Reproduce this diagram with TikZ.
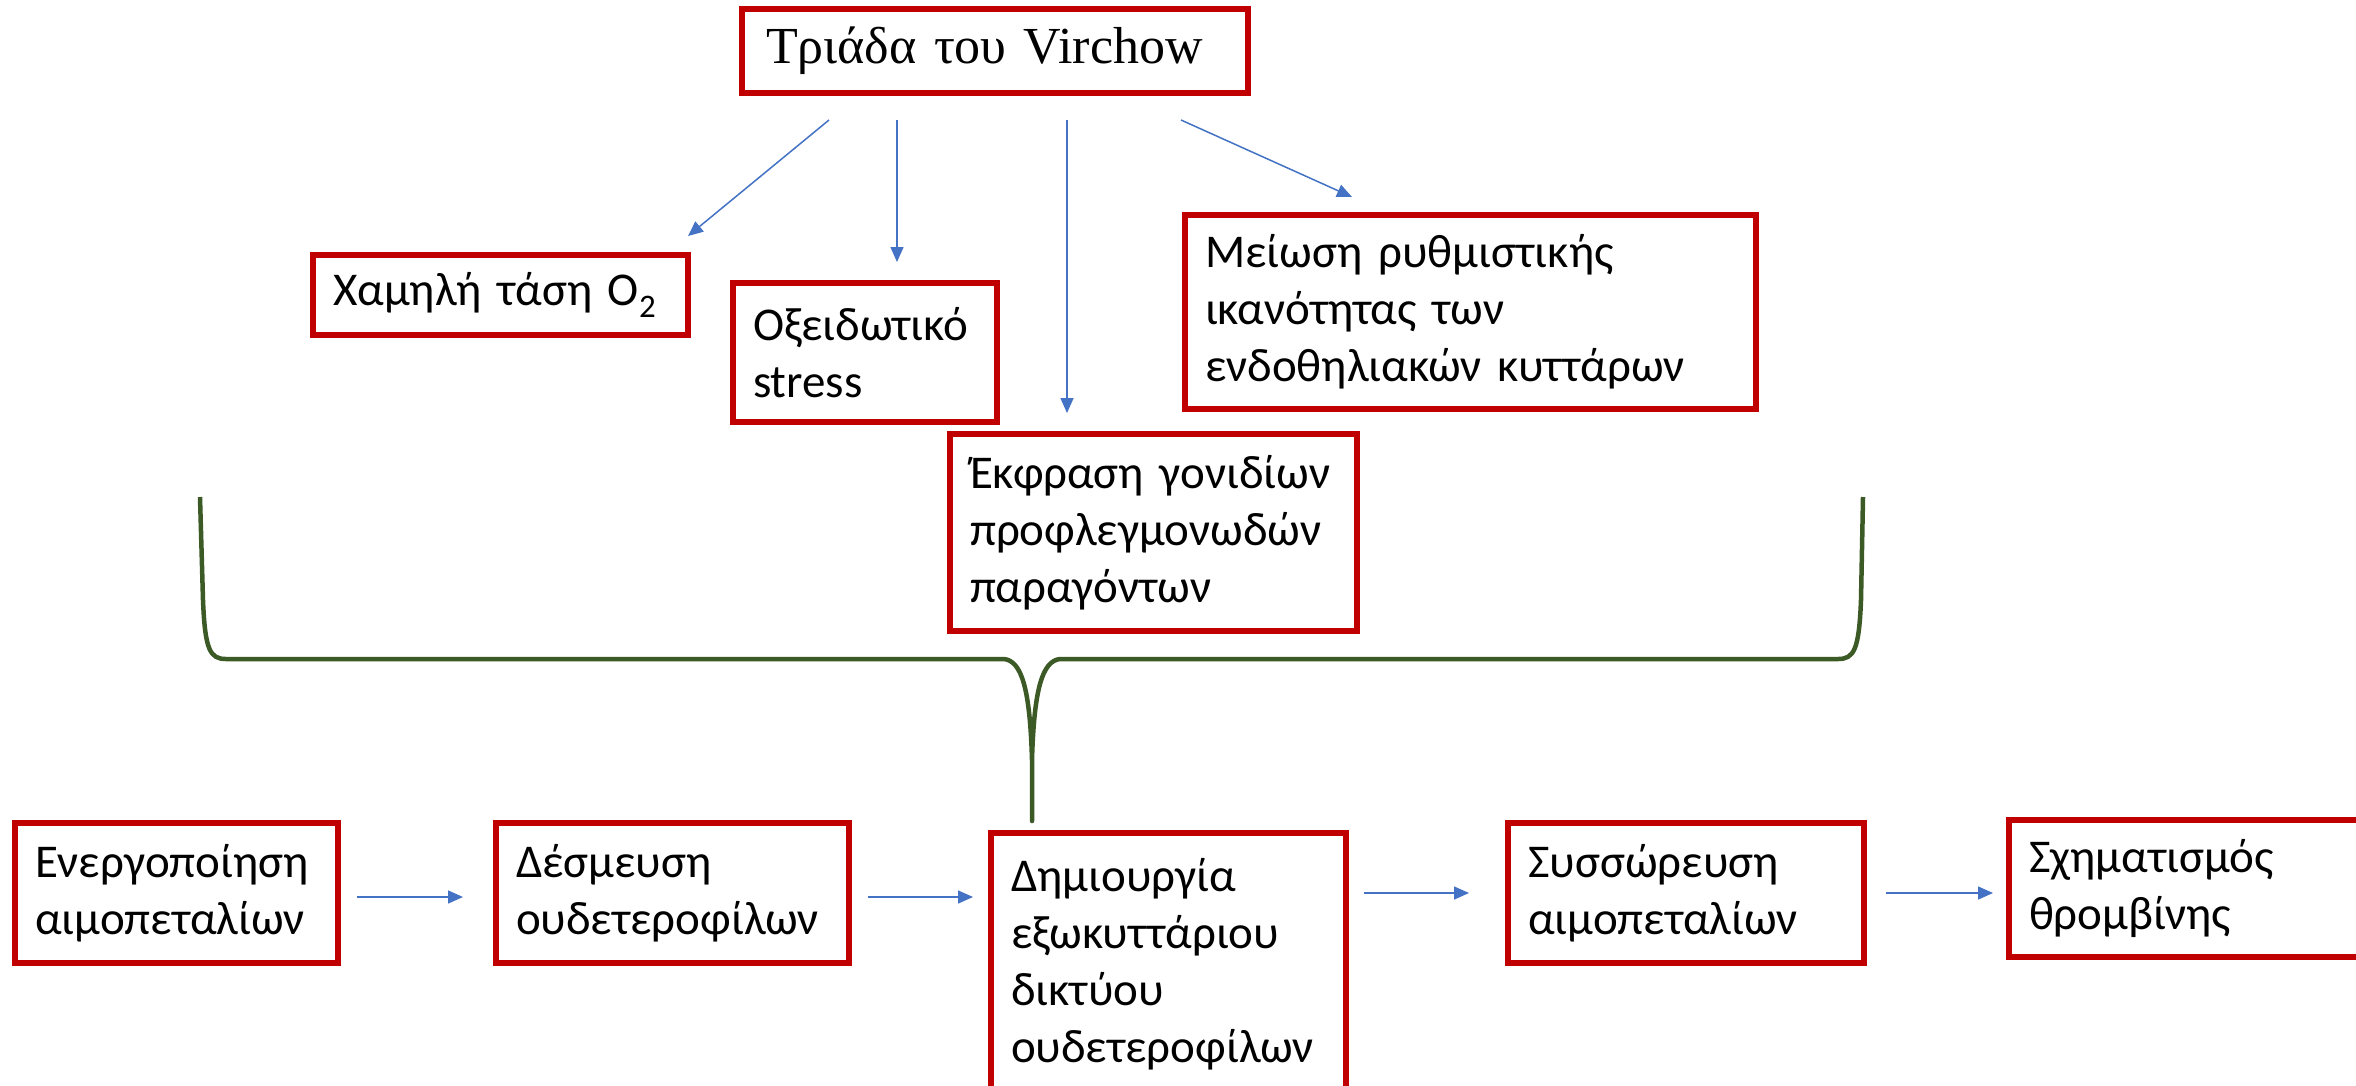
\documentclass[tikz,border=0pt]{standalone}
\usepackage{fontspec}
\setmainfont{Carlito}
\newfontfamily\timesf{Liberation Serif}
\usetikzlibrary{arrows.meta}
\definecolor{boxred}{HTML}{C00000}
\definecolor{arrblue}{HTML}{4472C4}
\definecolor{bracegreen}{HTML}{3B5A26}
\hyphenpenalty=10000
\exhyphenpenalty=10000
\begin{document}
\begin{tikzpicture}[x=1pt,y=-1pt,
  box/.style={draw=boxred, line width=5.5pt, fill=white, inner xsep=20pt, inner ysep=0pt,
    align=left, font=\fontsize{47}{57}\selectfont},
  arr/.style={draw=arrblue, line width=1.5pt, -{Triangle[length=15pt,width=13pt]}},
  bracestyle/.style={draw=bracegreen, line width=4.5pt, line join=round}]
\fill[white] (0,0) rectangle (2356,1085);
\useasboundingbox (0,0) rectangle (2356,1085);

% brace
\draw[bracestyle] (200,497) -- (203,600) .. controls (205,650) and (210,659) .. (226,659)
  -- (1004,659) .. controls (1022,661) and (1030,690) .. (1032,760) -- (1032,821)
  -- (1032,760) .. controls (1034,690) and (1042,661) .. (1060,659)
  -- (1838,659) .. controls (1854,659) and (1859,650) .. (1861,600) -- (1863,497);

% nodes
\node[box, inner xsep=24pt, minimum height=84pt, text width=458pt,
  font=\timesf\fontsize{52}{60}\selectfont] (top) at (995,51) {Τριάδα του Virchow};
\node[box, minimum height=80pt, text width=335pt] (low) at (500.5,295) {Χαμηλή τάση O\textsubscript{2}};
\node[box, minimum height=139pt, text width=224pt] (oxid) at (865,352.5) {Οξειδωτικό\\stress};
\node[box, minimum height=194pt, text width=531pt] (meio) at (1470.5,312) {Μείωση ρυθμιστικής\\ικανότητας των\\ενδοθηλιακών κυττάρων};
\node[box, minimum height=197pt, text width=367pt] (ekfr) at (1153.5,532.5) {Έκφραση γονιδίων\\προφλεγμονωδών\\παραγόντων};

\node[box, minimum height=140pt, text width=283pt] (energ) at (176.5,893) {Ενεργοποίηση\\αιμοπεταλίων};
\node[box, minimum height=140pt, text width=313pt] (desm) at (672.5,893) {Δέσμευση\\ουδετεροφίλων};
\node[box, minimum height=262pt, text width=315pt] (dimi) at (1168.5,964) {Δημιουργία\\εξωκυττάριου\\δικτύου\\ουδετεροφίλων};
\node[box, minimum height=140pt, text width=316pt] (syss) at (1686,893) {Συσσώρευση\\αιμοπεταλίων};
\node[box, minimum height=137pt, text width=340pt] (schim) at (2199,888.5) {Σχηματισμός\\θρομβίνης};

% arrow end points
\coordinate (t1s) at (829,120);  \coordinate (t1e) at (688,236);
\coordinate (t2s) at (897,120);  \coordinate (t2e) at (897,262);
\coordinate (t3s) at (1067,120); \coordinate (t3e) at (1067,413);
\coordinate (t4s) at (1181,120); \coordinate (t4e) at (1352,197);
\coordinate (b1s) at (357,897);  \coordinate (b1e) at (463,897);
\coordinate (b2s) at (868,897);  \coordinate (b2e) at (973,897);
\coordinate (b3s) at (1364,893); \coordinate (b3e) at (1469,893);
\coordinate (b4s) at (1886,893); \coordinate (b4e) at (1993,893);

\draw[arr] (t1s) -- (t1e);
\draw[arr] (t2s) -- (t2e);
\draw[arr] (t3s) -- (t3e);
\draw[arr] (t4s) -- (t4e);
\draw[arr] (b1s) -- (b1e);
\draw[arr] (b2s) -- (b2e);
\draw[arr] (b3s) -- (b3e);
\draw[arr] (b4s) -- (b4e);
\end{tikzpicture}
\end{document}
